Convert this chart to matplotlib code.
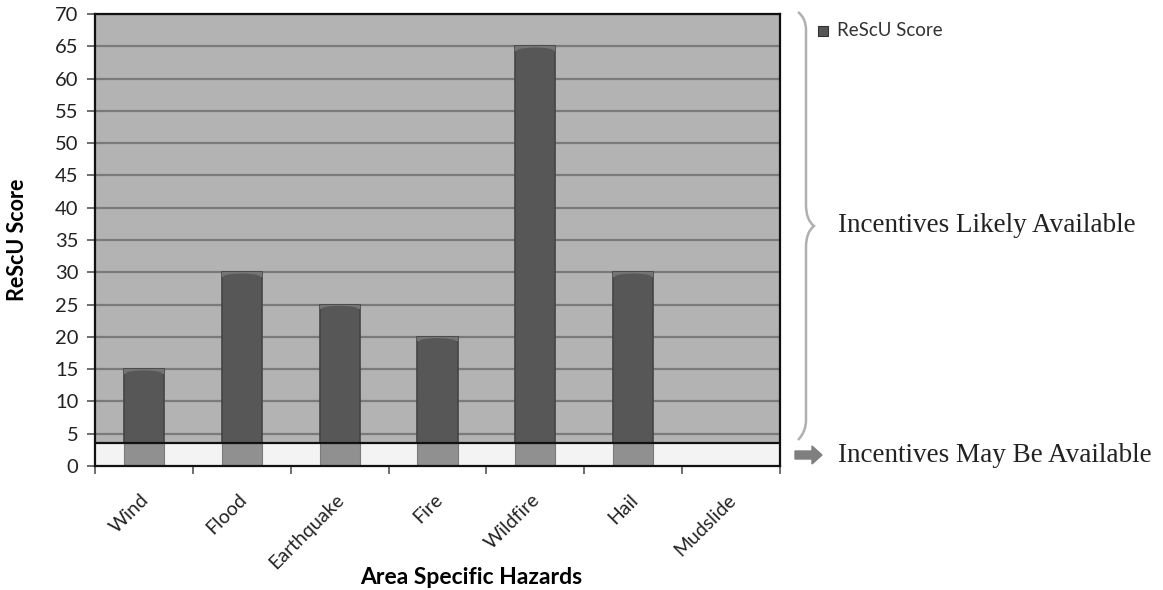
import matplotlib
matplotlib.use("Agg")
import matplotlib.pyplot as plt
import numpy as np
from matplotlib.path import Path
from matplotlib.patches import PathPatch, FancyArrow, Rectangle, Ellipse
from matplotlib.transforms import ScaledTranslation

categories = ["Wind", "Flood", "Earthquake", "Fire", "Wildfire", "Hail", "Mudslide"]
scores = [15, 30, 25, 20, 65, 30, 0]
yticks = list(range(0, 75, 5))
band_top = 3.5
series_name = "ReScU Score"
ylabel = "ReScU Score"
xlabel = "Area Specific Hazards"
note_high = "Incentives Likely Available"
note_low = "Incentives May Be Available"

W, H = 1163, 590
fig = plt.figure(figsize=(W / 100, H / 100), dpi=100)
sans = ["Lato", "DejaVu Sans"]
serif = ["Liberation Serif", "DejaVu Serif"]

ax = fig.add_axes([95 / W, 1 - 466 / H, 685 / W, 452 / H])
ax.set_facecolor("#b3b3b3")
x = np.arange(len(categories))
vals = np.array(scores, dtype=float)

ax.set_xlim(-0.5, len(categories) - 0.5)
ax.set_ylim(0, 70)
ax.set_yticks(yticks)
ax.yaxis.grid(True, color="#7a7a7a", linewidth=1.6, zorder=0)
ax.set_axisbelow(True)

bw = 0.41
ax.bar(x, vals, width=bw, color="#575757", edgecolor="#444444", linewidth=1.2, zorder=2)
# bar top caps (3D look)
for xi, v in zip(x, vals):
    if v > 0:
        ax.add_patch(Rectangle((xi - bw / 2, v - 0.7), bw, 0.7, facecolor="#747474",
                               edgecolor="none", zorder=3))
        ax.add_patch(Ellipse((xi, v - 0.7), bw * 0.92, 1.0, facecolor="#575757",
                             edgecolor="none", zorder=3))

# lower band
ax.axhspan(0, band_top, facecolor="#f3f3f3", edgecolor="none", zorder=3)
ax.bar(x, np.minimum(vals, band_top), width=bw, color="#909090", edgecolor="#7a7a7a",
       linewidth=0.8, zorder=4)
ax.axhline(band_top, color="#111111", linewidth=1.6, zorder=5)

for s in ax.spines.values():
    s.set_color("#111111")
    s.set_linewidth(1.6)
    s.set_zorder(6)

ax.set_xticks(x)
ax.set_xticklabels(categories, rotation=45, ha="right", rotation_mode="anchor",
                   fontsize=14, family=sans, color="#222222")
ax.set_xticks(np.arange(-0.5, len(categories)), minor=True)
ax.tick_params(axis="x", which="major", length=0, pad=18)
ax.tick_params(axis="x", which="minor", length=6, color="#555555", width=1.2)
ax.tick_params(axis="y", length=6, color="#555555", width=1.2, labelsize=14.5, pad=6,
               labelcolor="#222222")
shift = ScaledTranslation(-4 / 100, 0, fig.dpi_scale_trans)
for lab in ax.get_xticklabels():
    lab.set_transform(lab.get_transform() + shift)
for lab in ax.get_yticklabels():
    lab.set_family(sans)

def fx(px):
    return px / W

def fy(py):
    return 1 - py / H

fig.text(fx(18), fy(240), ylabel, fontsize=15.5, fontweight="bold", family=sans,
         rotation=90, ha="center", va="center")
fig.text(fx(471), fy(577), xlabel, fontsize=16.5, fontweight="bold", family=sans,
         ha="center", va="center")

# curly brace
pts = [(798, 12), (806, 18), (806, 30), (806, 30),
       (806, 205), (806, 205), (806, 220), (814, 226),
       (806, 232), (806, 247), (806, 247),
       (806, 420), (806, 420), (806, 432), (798, 440)]
codes = [Path.MOVETO, Path.CURVE3, Path.CURVE3, Path.LINETO,
         Path.LINETO, Path.LINETO, Path.CURVE3, Path.CURVE3,
         Path.CURVE3, Path.CURVE3, Path.LINETO,
         Path.LINETO, Path.LINETO, Path.CURVE3, Path.CURVE3]
verts = [(fx(a), fy(b)) for a, b in pts]
fig.add_artist(PathPatch(Path(verts, codes), transform=fig.transFigure, facecolor="none",
                         edgecolor="#b0b0b0", linewidth=1.8))

fig.text(fx(838), fy(226), note_high, family=serif, fontsize=19.5, va="center", ha="left",
         color="#222222")
fig.text(fx(838), fy(456), note_low, family=serif, fontsize=19.5, va="center", ha="left",
         color="#222222")

fig.add_artist(FancyArrow(fx(795), fy(455), fx(822) - fx(795), 0, width=8 / H,
                          head_width=18 / H, head_length=10 / W, length_includes_head=True,
                          transform=fig.transFigure, color="#7f7f7f"))

# legend
fig.add_artist(Rectangle((fx(818), fy(36)), 10 / W, 10 / H, transform=fig.transFigure,
                         facecolor="#555555", edgecolor="#333333", linewidth=0.8))
fig.text(fx(837), fy(31), series_name, family=sans, fontsize=13.5, va="center", ha="left",
         color="#333333")

fig.savefig("out.png", dpi=100)
